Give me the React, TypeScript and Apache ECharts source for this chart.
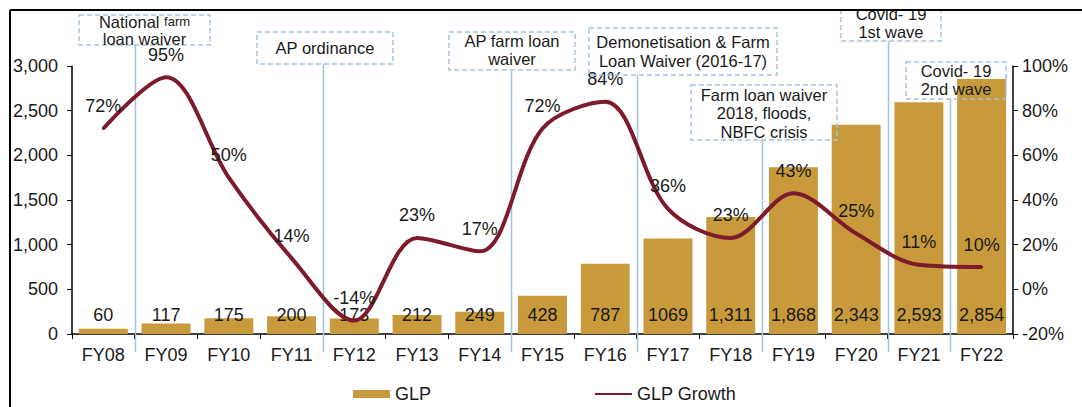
import React, { useEffect, useRef } from "react";
import * as echarts from "echarts";

const categories = ["FY08", "FY09", "FY10", "FY11", "FY12", "FY13", "FY14", "FY15", "FY16", "FY17", "FY18", "FY19", "FY20", "FY21", "FY22"];
const glp = [60, 117, 175, 200, 173, 212, 249, 428, 787, 1069, 1311, 1868, 2343, 2593, 2854];
const glpLabels = ["60", "117", "175", "200", "173", "212", "249", "428", "787", "1069", "1,311", "1,868", "2,343", "2,593", "2,854"];
const growth = [72, 95, 50, 14, -14, 23, 17, 72, 84, 36, 23, 43, 25, 11, 10];

// annotation texts and the category after which each marker line sits
const annotationTexts = [
  "{a|National }{b|farm}\n{a|loan waiver}",
  "{a|AP ordinance}",
  "{a|AP farm loan}\n{a|waiver}",
  "{a|Demonetisation & Farm}\n{a|Loan Waiver (2016-17)}",
  "{a|Farm loan waiver}\n{a|2018, floods,}\n{a|NBFC crisis}",
  "{a|Covid- 19}\n{a|1st wave}",
  "{a|Covid- 19}\n{a|2nd wave}",
];
const annotationAfter = [0, 3, 6, 8, 10, 12, 13];

// layout of annotation boxes [x, y, w, h, lineHeight, textCenterY]
const boxLayout = [
  [79, 15, 131, 30, 17, 30],
  [257, 32, 136, 32, 18, 48],
  [449, 32, 126, 38, 18, 50],
  [589, 28, 188, 47, 19, 51],
  [691, 85, 146, 55, 18.5, 113],
  [841, -4, 100, 45, 18, 23],
  [906, 62, 100, 37, 18, 80],
];

const FONT = "'Liberation Sans', Arial, sans-serif";
const TEXT = "#1a1a1a";
const BAR = "#C89A3B";
const LINE = "#7E1B2A";
const MARK = "#A5C3DE";
const FS = 18;

export default function App() {
  const ref = useRef<HTMLDivElement>(null);
  useEffect(() => {
    const chart = echarts.init(ref.current as HTMLDivElement, null, { renderer: "svg" });
    const option: any = {
      animation: false,
      backgroundColor: "#fff",
      textStyle: { fontFamily: FONT },
      grid: { left: 72, right: 69, top: 66, bottom: 73 },
      legend: {
        left: 348,
        top: 380,
        itemWidth: 37,
        itemHeight: 8,
        itemGap: 163,
        textStyle: { fontSize: FS, color: TEXT, fontFamily: FONT },
        data: [
          { name: "GLP", icon: "rect" },
          { name: "GLP Growth", itemStyle: { color: "rgba(0,0,0,0)", opacity: 0 } },
        ],
      },
      xAxis: {
        type: "category",
        data: categories,
        axisLine: { lineStyle: { color: "#000", width: 1.5 } },
        axisTick: { show: true, length: 5, lineStyle: { color: "#000" } },
        axisLabel: { fontSize: FS, color: TEXT, margin: 12, fontFamily: FONT },
      },
      yAxis: [
        {
          type: "value",
          min: 0,
          max: 3000,
          interval: 500,
          splitLine: { show: false },
          axisLine: { show: true, lineStyle: { color: "#000", width: 1.5 } },
          axisTick: { show: true, length: 5, lineStyle: { color: "#000" } },
          axisLabel: {
            fontSize: FS,
            color: TEXT,
            fontFamily: FONT,
            margin: 14,
            formatter: (v: number) => v.toLocaleString("en-US"),
          },
        },
        {
          type: "value",
          min: -20,
          max: 100,
          interval: 20,
          position: "right",
          splitLine: { show: false },
          axisLine: { show: true, lineStyle: { color: "#000", width: 1.5 } },
          axisTick: { show: true, length: 5, lineStyle: { color: "#000" } },
          axisLabel: { fontSize: FS, color: TEXT, fontFamily: FONT, margin: 9, formatter: "{value}%" },
        },
      ],
      series: [
        {
          name: "GLP",
          type: "bar",
          data: glp,
          barCategoryGap: "22%",
          itemStyle: { color: BAR },
          z: 2,
          label: {
            show: true,
            position: "insideBottom",
            distance: 10,
            fontSize: FS,
            color: TEXT,
            fontFamily: FONT,
            formatter: (p: any) => glpLabels[p.dataIndex],
          },
        },
        {
          name: "GLP Growth",
          type: "line",
          yAxisIndex: 1,
          data: growth,
          smooth: 0.33,
          symbol: "circle",
          symbolSize: 3,
          z: 3,
          itemStyle: { color: LINE },
          lineStyle: { color: LINE, width: 4 },
          label: {
            show: true,
            position: "top",
            distance: 12,
            fontSize: FS,
            color: TEXT,
            fontFamily: FONT,
            formatter: (p: any) => p.value + "%",
          },
        },
      ],
    };
    chart.setOption(option);

    const graphics: any[] = [];
    annotationAfter.forEach((ci, k) => {
      const x0 = chart.convertToPixel({ xAxisIndex: 0 }, categories[ci]) as number;
      const x1 = chart.convertToPixel({ xAxisIndex: 0 }, categories[ci + 1]) as number;
      const lx = Math.round((x0 + x1) / 2) + 0.5;
      const [bx, by, bw, bh, lh, ty] = boxLayout[k];
      graphics.push({
        type: "line",
        z: 1,
        silent: true,
        shape: { x1: lx, y1: by + bh, x2: lx, y2: 352 },
        style: { stroke: MARK, lineWidth: 1.5 },
      });
      graphics.push({
        type: "rect",
        z: 10,
        silent: true,
        shape: { x: bx, y: by, width: bw, height: bh },
        style: { fill: "none", stroke: MARK, lineWidth: 1.5, lineDash: [5, 3] },
      });
      graphics.push({
        type: "text",
        z: 11,
        silent: true,
        x: bx + bw / 2,
        y: ty,
        style: {
          text: annotationTexts[k],
          align: "center",
          verticalAlign: "middle",
          rich: {
            a: { fontSize: 16.5, fontFamily: FONT, fill: TEXT, lineHeight: lh },
            b: { fontSize: 13, fontFamily: FONT, fill: TEXT, lineHeight: lh },
          },
        },
      });
    });
    // outer frame (clip above/left)
    graphics.push({ type: "rect", z: 50, silent: true, shape: { x: 0, y: 0, width: 1082, height: 9 }, style: { fill: "#fff" } });
    graphics.push({ type: "rect", z: 50, silent: true, shape: { x: 0, y: 0, width: 9, height: 407 }, style: { fill: "#fff" } });
    graphics.push({ type: "line", z: 51, silent: true, shape: { x1: 10, y1: 10, x2: 1082, y2: 10 }, style: { stroke: "#000", lineWidth: 2 } });
    graphics.push({ type: "line", z: 51, silent: true, shape: { x1: 10, y1: 10, x2: 10, y2: 407 }, style: { stroke: "#000", lineWidth: 2 } });
    chart.setOption({ graphic: graphics });

    return () => chart.dispose();
  }, []);
  return (
    <div
      ref={ref}
      style={{ position: "fixed", left: 0, top: 0, width: 1082, height: 407, background: "#fff" }}
    />
  );
}
